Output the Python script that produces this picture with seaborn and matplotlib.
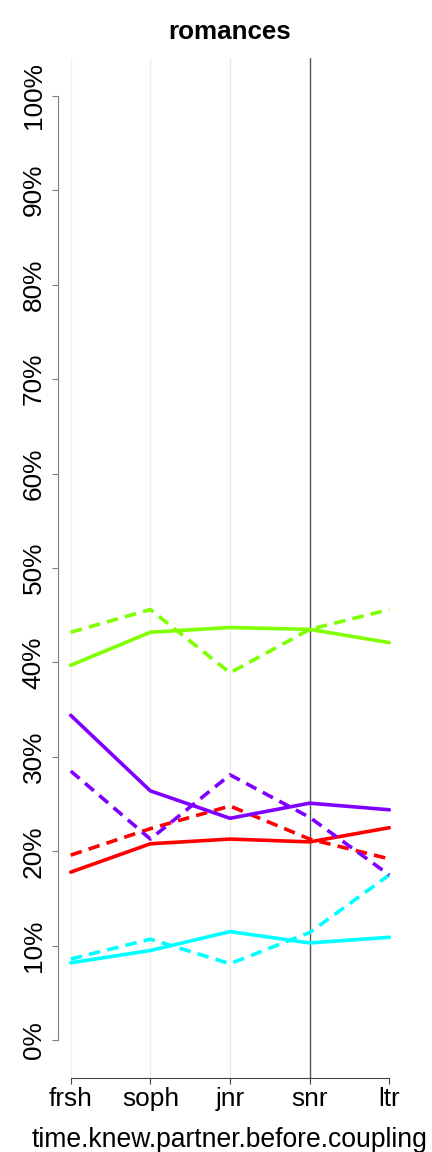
import pandas as pd
import matplotlib
matplotlib.use("Agg")
import matplotlib.pyplot as plt
import seaborn as sns

# data (percent)
years = ['frsh', 'soph', 'jnr', 'snr', 'ltr']
groups = ['red', 'green', 'cyan', 'purple']
colors = {'red': '#FF0000', 'green': '#80FF00', 'cyan': '#00FFFF', 'purple': '#8000FF'}

red_solid = [17.8, 20.8, 21.3, 21.0, 22.5]
red_dashed = [19.6, 22.4, 24.8, 21.3, 19.2]
green_solid = [39.7, 43.2, 43.7, 43.5, 42.1]
green_dashed = [43.2, 45.6, 38.9, 43.5, 45.6]
cyan_solid = [8.2, 9.5, 11.5, 10.3, 10.9]
cyan_dashed = [8.6, 10.7, 8.1, 11.4, 17.5]
purple_solid = [34.4, 26.4, 23.5, 25.1, 24.4]
purple_dashed = [28.5, 21.3, 28.1, 23.6, 17.5]

# vertical reference lines at each year
vline_colors = ['#f3f3ea', '#efefe2', '#ececd8', '#555555', None]

series = {
    ('red', 'solid'): red_solid, ('red', 'dashed'): red_dashed,
    ('green', 'solid'): green_solid, ('green', 'dashed'): green_dashed,
    ('cyan', 'solid'): cyan_solid, ('cyan', 'dashed'): cyan_dashed,
    ('purple', 'solid'): purple_solid, ('purple', 'dashed'): purple_dashed,
}
rows = []
for (g, s), vals in series.items():
    for i, v in enumerate(vals):
        rows.append({'x': i + 1, 'pct': v, 'group': g, 'kind': s})
df = pd.DataFrame(rows)

sns.set_style('white')
plt.rcParams['font.family'] = ['Liberation Sans', 'DejaVu Sans']
plt.rcParams['text.color'] = 'black'
plt.rcParams['axes.labelcolor'] = 'black'

fig = plt.figure(figsize=(4.32, 11.52), dpi=100)
ax = fig.add_axes([58 / 432, 74 / 1152, 344 / 432, 1020 / 1152])

for i, c in enumerate(vline_colors):
    if c is not None:
        ax.axvline(i + 1, color=c, lw=1, zorder=0)

sns.lineplot(data=df, x='x', y='pct', hue='group', style='kind',
             hue_order=groups, style_order=['solid', 'dashed'],
             palette=colors, dashes={'solid': '', 'dashed': (3.2, 2.0)},
             lw=2.6, legend=False, ax=ax, estimator=None, sort=False)

for s in ['top', 'right']:
    ax.spines[s].set_visible(False)
ax.spines['left'].set_color('#808080')
ax.spines['bottom'].set_color('#444444')

ax.set_xlim(0.84, 5.16)
ax.set_ylim(-4, 104)
ax.set_xticks(range(1, 6))
ax.set_xticklabels(years)
ax.set_yticks(range(0, 101, 10))
ax.set_yticklabels([f'{v}%' for v in range(0, 101, 10)], rotation=90, va='center')
ax.spines['left'].set_bounds(0, 100)
ax.spines['bottom'].set_bounds(1, 5)

ax.tick_params(axis='y', direction='out', length=4.3, width=0.8, color='#808080',
               labelsize=18.9, pad=4.5, left=True, labelcolor='black')
ax.tick_params(axis='x', direction='out', length=4.3, width=0.8, color='#444444',
               labelsize=18.9, pad=2.5, bottom=True, labelcolor='black')

ax.set_title('romances', fontsize=18.7, fontweight='bold', pad=14, color='black')
ax.set_xlabel('time.knew.partner.before.coupling', fontsize=19.1, labelpad=11, color='black')
ax.set_ylabel('')

plt.savefig('out.png', dpi=100)
plt.close()
